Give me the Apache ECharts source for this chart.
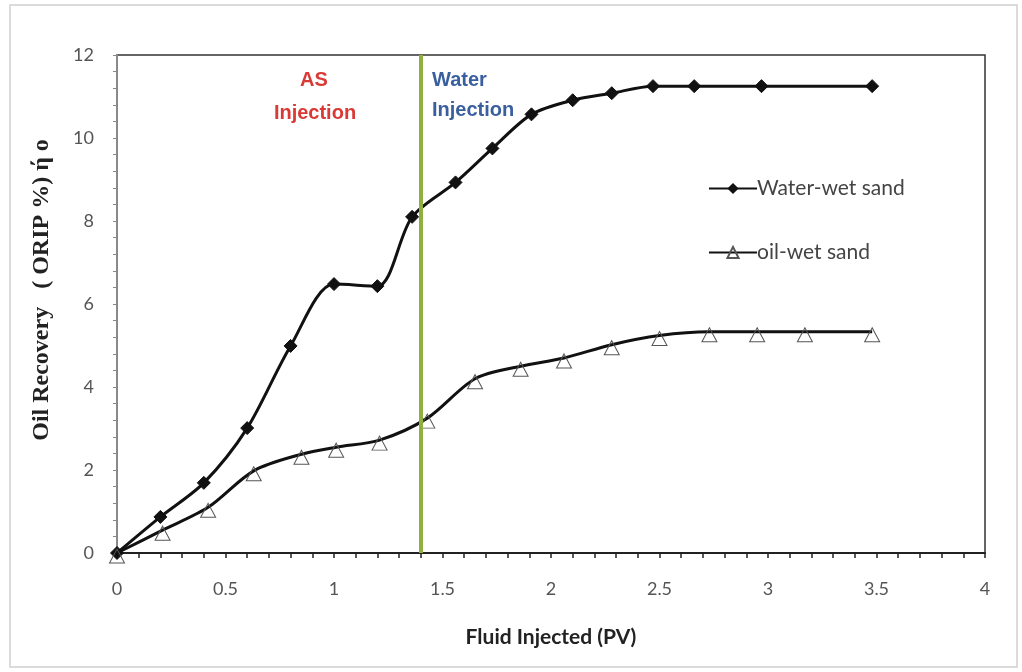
<!DOCTYPE html>
<html>
<head>
<meta charset="utf-8">
<script src="https://cdn.jsdelivr.net/npm/echarts@6/dist/echarts.min.js"></script>
<style>
html,body{margin:0;padding:0;background:#fff;}
#chart{width:1022px;height:672px;}
</style>
</head>
<body>
<div id="chart"></div>
<script>
// ---- data ----
const waterWetX = [0, 0.2, 0.4, 0.6, 0.8, 1.0, 1.2, 1.36, 1.56, 1.73, 1.91, 2.1, 2.28, 2.47, 2.66, 2.97, 3.48];
const waterWetY = [0, 0.87, 1.69, 3.01, 4.99, 6.48, 6.43, 8.1, 8.93, 9.75, 10.57, 10.91, 11.08, 11.25, 11.25, 11.25, 11.25];
const oilWetX = [0, 0.21, 0.42, 0.63, 0.85, 1.01, 1.21, 1.43, 1.65, 1.86, 2.06, 2.28, 2.5, 2.73, 2.95, 3.17, 3.48];
const oilWetY = [0, 0.55, 1.1, 1.98, 2.38, 2.55, 2.72, 3.25, 4.2, 4.5, 4.7, 5.02, 5.24, 5.33, 5.33, 5.33, 5.33];
const seriesNames = ['Water-wet sand', 'oil-wet sand'];
const injectionSwitchPV = 1.4;
const xTicks = {min: 0, max: 4, interval: 0.5};
const yTicks = {min: 0, max: 12, interval: 2};
const xTitle = 'Fluid Injected (PV)';
const yTitle = 'Oil Recovery   ( ORIP %) ή o';

const pairs = (xs, ys) => xs.map((x, i) => [x, ys[i]]);

const chart = echarts.init(document.getElementById('chart'));
const tickFont = {fontFamily: 'Lato, "Open Sans", sans-serif', fontSize: 18, color: '#555'};
const annFont = 'bold 20px "Liberation Sans Narrow", "Liberation Sans", Arial, sans-serif';

chart.setOption({
  backgroundColor: '#fff',
  animation: false,
  grid: {left: 117, right: 37, top: 55, bottom: 119, containLabel: false,
         show: true, borderColor: '#333', borderWidth: 1.5, backgroundColor: 'transparent'},
  legend: {
    orient: 'vertical', left: 703, top: 173, itemGap: 43,
    itemWidth: 48, itemHeight: 14,
    textStyle: {fontFamily: 'Lato, "Open Sans", sans-serif', fontSize: 21, color: '#444', padding: [0,0,0,-5]},
    data: seriesNames
  },
  xAxis: {
    type: 'value', min: xTicks.min, max: xTicks.max, interval: xTicks.interval,
    axisLine: {onZero: false, lineStyle: {color: '#222', width: 2}},
    axisTick: {show: true, length: 5, lineStyle: {color: '#222', width: 1.5}},
    minorTick: {show: true, splitNumber: 5, length: 5, lineStyle: {color: '#222', width: 1.5}},
    splitLine: {show: false},
    axisLabel: Object.assign({margin: 27, formatter: v => String(v)}, tickFont),
    name: xTitle, nameLocation: 'middle', nameGap: 74,
    nameTextStyle: {fontFamily: 'Lato, "Liberation Sans", sans-serif', fontWeight: 'bold', fontSize: 21, color: '#222'}
  },
  yAxis: {
    type: 'value', min: yTicks.min, max: yTicks.max, interval: yTicks.interval,
    axisLine: {show: true, onZero: false, lineStyle: {color: '#8a8a8a', width: 2}},
    axisTick: {show: true, length: 4, lineStyle: {color: '#888'}},
    minorTick: {show: true, splitNumber: 5, length: 4, lineStyle: {color: '#888'}},
    splitLine: {show: false},
    axisLabel: Object.assign({margin: 23}, tickFont)
  },
  series: [{
    name: seriesNames[0], type: 'line', smooth: 0.3,
    data: pairs(waterWetX, waterWetY),
    symbol: 'diamond', symbolSize: 13,
    lineStyle: {color: '#111', width: 3},
    itemStyle: {color: '#111', borderColor: '#111'},
    z: 3,
    markLine: {
      silent: true, symbol: 'none', label: {show: false},
      lineStyle: {color: '#8fb03c', width: 4, type: 'solid'},
      data: [{xAxis: injectionSwitchPV}]
    }
  }, {
    name: seriesNames[1], type: 'line', smooth: 0.3,
    data: pairs(oilWetX, oilWetY),
    symbol: 'triangle', symbolSize: [15, 14], symbolOffset: [0, 3],
    lineStyle: {color: '#111', width: 3},
    itemStyle: {color: 'rgba(255,255,255,0)', borderColor: '#555', borderWidth: 1},
    z: 4
  }],
  graphic: [
    {type: 'rect', shape: {x: 10, y: 5, width: 1007, height: 662}, style: {fill: 'none', stroke: '#cfcfcf', lineWidth: 1.5}, silent: true, z: -1},
    {type: 'text', x: 42, y: 290, rotation: Math.PI / 2, style: {text: yTitle, textAlign: 'center', textVerticalAlign: 'middle', font: 'bold 24px "Liberation Serif", "Times New Roman", serif', fill: '#222'}},
    {type: 'text', x: 314, y: 80, style: {text: 'AS', textAlign: 'center', textVerticalAlign: 'middle', font: annFont, fill: '#d93a36'}},
    {type: 'text', x: 315, y: 113, style: {text: 'Injection', textAlign: 'center', textVerticalAlign: 'middle', font: annFont, fill: '#d93a36'}},
    {type: 'text', x: 432, y: 80, style: {text: 'Water', textAlign: 'left', textVerticalAlign: 'middle', font: annFont, fill: '#3a5f9f'}},
    {type: 'text', x: 432, y: 110, style: {text: 'Injection', textAlign: 'left', textVerticalAlign: 'middle', font: annFont, fill: '#3a5f9f'}}
  ]
});
</script>
</body>
</html>
